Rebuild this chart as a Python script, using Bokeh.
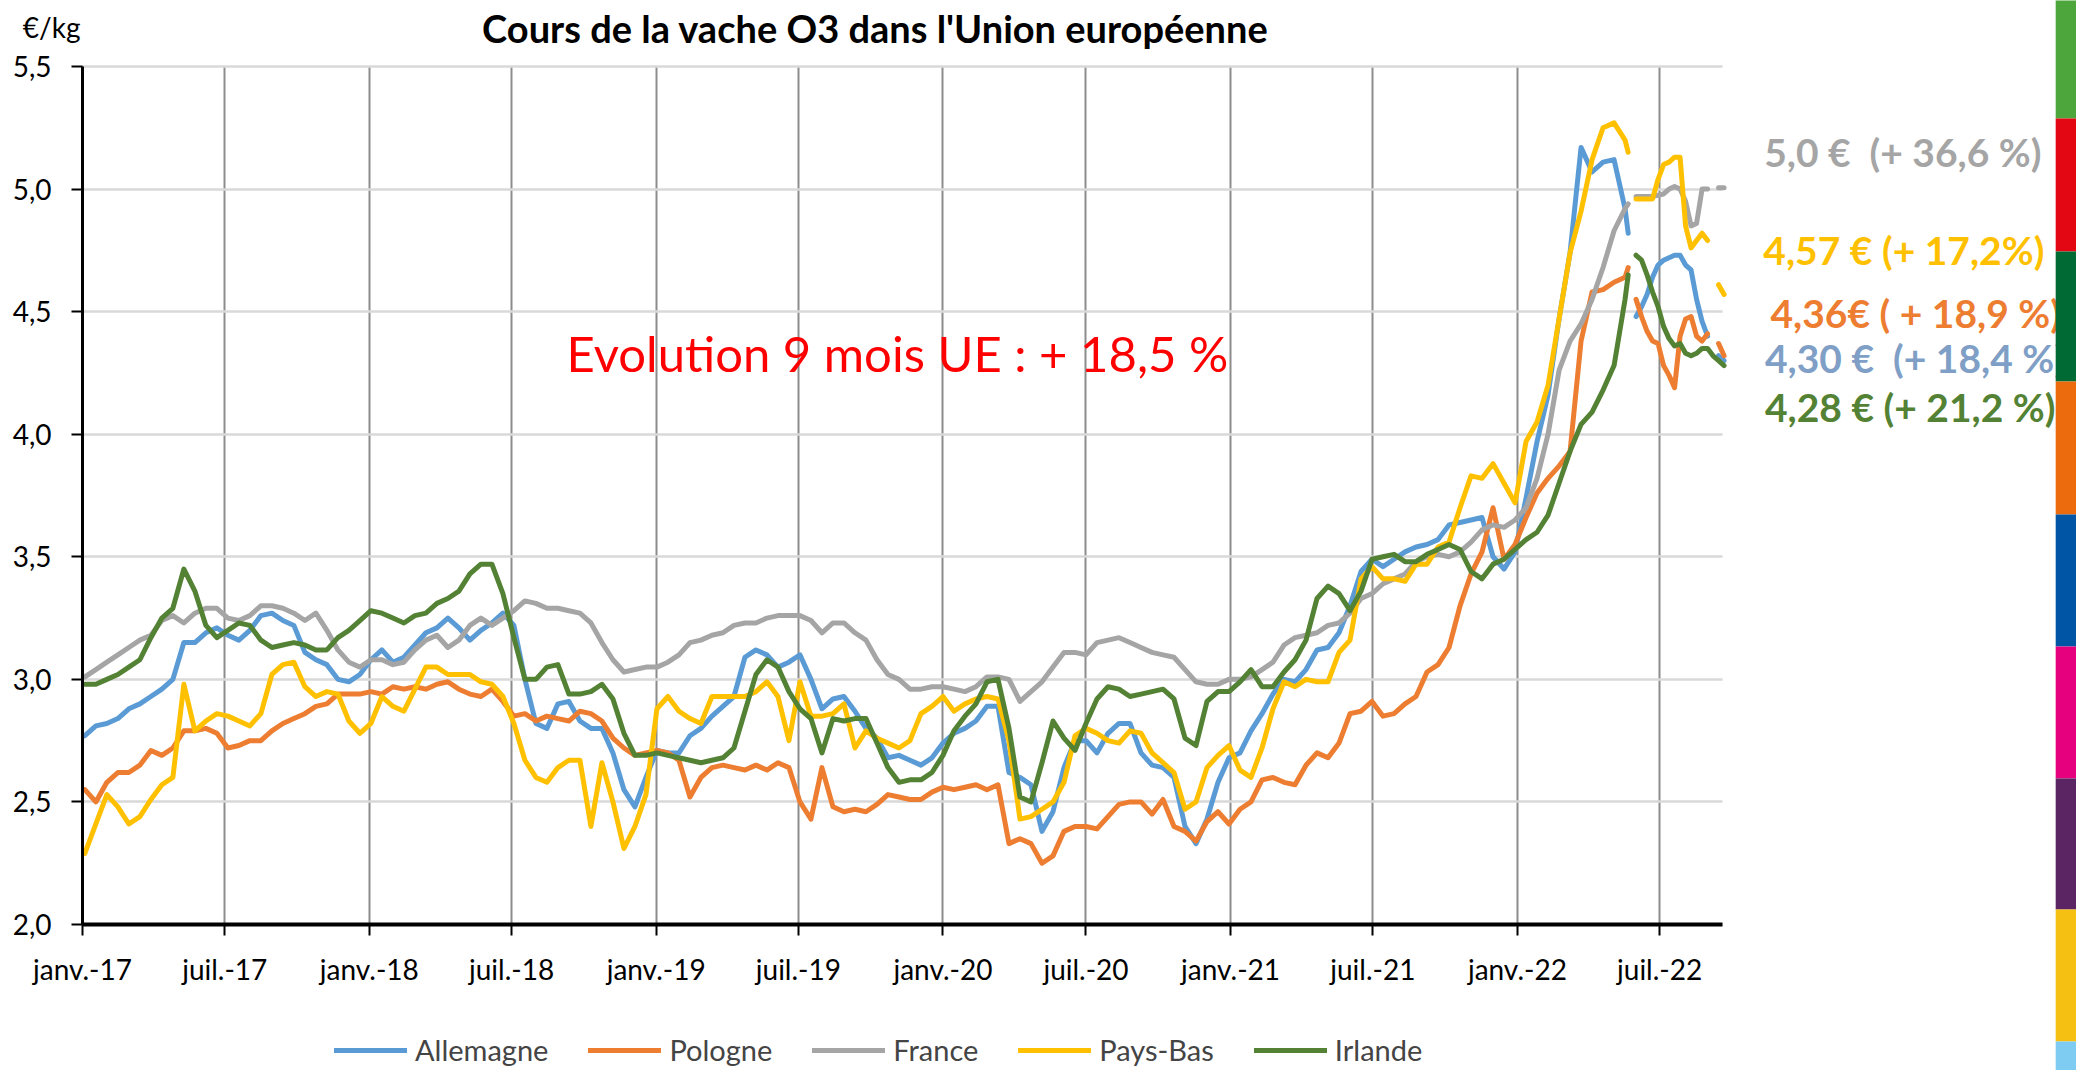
import numpy as np
from bokeh.plotting import figure
from bokeh.models import (Range1d, FixedTicker, CustomJSTickFormatter, Label, Legend,
                          LegendItem, BoxAnnotation, ColumnDataSource)
from bokeh.embed import file_html
from bokeh.resources import INLINE

nan = float("nan")

# x positions: days since 2017-01-01 (fortnightly, then weekly in 2022)
days = list(range(3, 1964, 14)) + [1967, 1972] + list(range(1977, 2090, 7))

allemagne = [
    2.77, 2.81, 2.82, 2.84, 2.88, 2.90, 2.93, 2.96, 3.00, 3.15,
    3.15, 3.19, 3.21, 3.18, 3.16, 3.20, 3.26, 3.27, 3.24, 3.22,
    3.11, 3.08, 3.06, 3.00, 2.99, 3.02, 3.08, 3.12, 3.07, 3.09,
    3.14, 3.19, 3.21, 3.25, 3.21, 3.16, 3.20, 3.23, 3.27, 3.22,
    3.00, 2.82, 2.80, 2.90, 2.91, 2.83, 2.80, 2.80, 2.70, 2.55,
    2.48, 2.60, 2.71, 2.70, 2.70, 2.77, 2.80, 2.85, 2.89, 2.93,
    3.09, 3.12, 3.10, 3.05, 3.07, 3.10, 3.00, 2.88, 2.92, 2.93,
    2.87, 2.80, 2.76, 2.68, 2.69, 2.67, 2.65, 2.68, 2.74, 2.78,
    2.80, 2.83, 2.89, 2.89, 2.62, 2.60, 2.57, 2.38, 2.46, 2.64,
    2.75, 2.75, 2.70, 2.78, 2.82, 2.82, 2.70, 2.65, 2.64, 2.60,
    2.40, 2.33, 2.43, 2.58, 2.68, 2.70, 2.79, 2.86, 2.94, 3.00,
    2.99, 3.04, 3.12, 3.13, 3.19, 3.30, 3.44, 3.49, 3.46, 3.49,
    3.52, 3.54, 3.55, 3.57, 3.63, 3.64, 3.65, 3.66, 3.50, 3.45,
    3.52, 3.74, 3.97, 4.16, 4.47, 4.74, 5.17, 5.07, 5.11, 5.12, 4.92,
    4.82, nan,
    4.48, 4.52, 4.57, 4.64, 4.69, 4.71, 4.72, 4.73, 4.73, 4.69, 4.67, 4.55, 4.46, 4.40, nan, 4.32, 4.30]

pologne = [
    2.55, 2.50, 2.58, 2.62, 2.62, 2.65, 2.71, 2.69, 2.72, 2.79,
    2.79, 2.80, 2.78, 2.72, 2.73, 2.75, 2.75, 2.79, 2.82, 2.84,
    2.86, 2.89, 2.90, 2.94, 2.94, 2.94, 2.95, 2.94, 2.97, 2.96,
    2.97, 2.96, 2.98, 2.99, 2.96, 2.94, 2.93, 2.96, 2.91, 2.85,
    2.86, 2.83, 2.85, 2.84, 2.83, 2.87, 2.86, 2.83, 2.76, 2.72,
    2.69, 2.70, 2.71, 2.70, 2.67, 2.52, 2.60, 2.64, 2.65, 2.64,
    2.63, 2.65, 2.63, 2.66, 2.64, 2.50, 2.43, 2.64, 2.48, 2.46,
    2.47, 2.46, 2.49, 2.53, 2.52, 2.51, 2.51, 2.54, 2.56, 2.55,
    2.56, 2.57, 2.55, 2.57, 2.33, 2.35, 2.33, 2.25, 2.28, 2.38,
    2.40, 2.40, 2.39, 2.44, 2.49, 2.50, 2.50, 2.45, 2.51, 2.40,
    2.38, 2.34, 2.42, 2.46, 2.41, 2.47, 2.50, 2.59, 2.60, 2.58,
    2.57, 2.65, 2.70, 2.68, 2.74, 2.86, 2.87, 2.91, 2.85, 2.86,
    2.90, 2.93, 3.03, 3.06, 3.13, 3.30, 3.43, 3.52, 3.70, 3.49,
    3.55, 3.66, 3.76, 3.82, 3.87, 3.93, 4.38, 4.58, 4.59, 4.62, 4.64,
    4.68, nan,
    4.55, 4.48, 4.42, 4.38, 4.37, 4.28, 4.24, 4.19, 4.40, 4.47, 4.48, 4.40, 4.38, 4.41, nan, 4.37, 4.32]

france = [
    3.01, 3.04, 3.07, 3.10, 3.13, 3.16, 3.18, 3.24, 3.26, 3.23,
    3.27, 3.29, 3.29, 3.25, 3.24, 3.26, 3.30, 3.30, 3.29, 3.27,
    3.24, 3.27, 3.20, 3.12, 3.07, 3.05, 3.08, 3.08, 3.06, 3.07,
    3.12, 3.16, 3.18, 3.13, 3.16, 3.22, 3.25, 3.22, 3.25, 3.28,
    3.32, 3.31, 3.29, 3.29, 3.28, 3.27, 3.23, 3.15, 3.08, 3.03,
    3.04, 3.05, 3.05, 3.07, 3.10, 3.15, 3.16, 3.18, 3.19, 3.22,
    3.23, 3.23, 3.25, 3.26, 3.26, 3.26, 3.24, 3.19, 3.23, 3.23,
    3.19, 3.16, 3.08, 3.02, 3.00, 2.96, 2.96, 2.97, 2.97, 2.96,
    2.95, 2.97, 3.01, 3.01, 3.00, 2.91, 2.95, 2.99, 3.05, 3.11,
    3.11, 3.10, 3.15, 3.16, 3.17, 3.15, 3.13, 3.11, 3.10, 3.09,
    3.04, 2.99, 2.98, 2.98, 3.00, 3.00, 3.01, 3.04, 3.07, 3.14,
    3.17, 3.18, 3.19, 3.22, 3.23, 3.27, 3.33, 3.35, 3.39, 3.41,
    3.43, 3.48, 3.50, 3.51, 3.50, 3.52, 3.56, 3.61, 3.63, 3.62,
    3.65, 3.70, 3.82, 4.00, 4.26, 4.38, 4.45, 4.55, 4.68, 4.83, 4.92,
    4.94, nan,
    4.97, 4.97, 4.97, 4.97, 4.975, 4.98, 5.00, 5.01, 5.00, 4.95, 4.85, 4.86, 5.00, 5.00, nan, 5.005, 5.005]

pays_bas = [
    2.29, 2.41, 2.53, 2.48, 2.41, 2.44, 2.51, 2.57, 2.60, 2.98,
    2.79, 2.83, 2.86, 2.85, 2.83, 2.81, 2.86, 3.02, 3.06, 3.07,
    2.97, 2.93, 2.95, 2.94, 2.83, 2.78, 2.82, 2.93, 2.89, 2.87,
    2.96, 3.05, 3.05, 3.02, 3.02, 3.02, 2.99, 2.98, 2.93, 2.82,
    2.67, 2.60, 2.58, 2.64, 2.67, 2.67, 2.40, 2.66, 2.50, 2.31,
    2.40, 2.53, 2.88, 2.93, 2.87, 2.84, 2.82, 2.93, 2.93, 2.93,
    2.93, 2.95, 2.99, 2.93, 2.75, 2.99, 2.85, 2.85, 2.86, 2.90,
    2.72, 2.79, 2.76, 2.74, 2.72, 2.75, 2.86, 2.89, 2.93, 2.87,
    2.90, 2.92, 2.93, 2.92, 2.75, 2.43, 2.44, 2.47, 2.50, 2.58,
    2.77, 2.80, 2.78, 2.75, 2.74, 2.79, 2.78, 2.70, 2.66, 2.62,
    2.47, 2.50, 2.64, 2.69, 2.73, 2.63, 2.60, 2.72, 2.88, 2.99,
    2.97, 3.00, 2.99, 2.99, 3.11, 3.16, 3.41, 3.46, 3.41, 3.41,
    3.40, 3.47, 3.47, 3.54, 3.56, 3.70, 3.83, 3.82, 3.88, 3.80,
    3.72, 3.97, 4.05, 4.20, 4.47, 4.74, 4.91, 5.12, 5.25, 5.27, 5.20,
    5.15, nan,
    4.96, 4.96, 4.96, 4.96, 5.04, 5.10, 5.11, 5.13, 5.13, 4.85, 4.76, 4.79, 4.82, 4.79, nan, 4.61, 4.57]

irlande = [
    2.98, 2.98, 3.00, 3.02, 3.05, 3.08, 3.17, 3.25, 3.29, 3.45,
    3.36, 3.22, 3.17, 3.20, 3.23, 3.22, 3.16, 3.13, 3.14, 3.15,
    3.14, 3.12, 3.12, 3.17, 3.20, 3.24, 3.28, 3.27, 3.25, 3.23,
    3.26, 3.27, 3.31, 3.33, 3.36, 3.43, 3.47, 3.47, 3.35, 3.17,
    3.00, 3.00, 3.05, 3.06, 2.94, 2.94, 2.95, 2.98, 2.92, 2.78,
    2.69, 2.69, 2.70, 2.69, 2.68, 2.67, 2.66, 2.67, 2.68, 2.72,
    2.87, 3.02, 3.08, 3.05, 2.95, 2.88, 2.84, 2.70, 2.84, 2.83,
    2.84, 2.84, 2.74, 2.64, 2.58, 2.59, 2.59, 2.62, 2.69, 2.79,
    2.85, 2.90, 2.99, 3.00, 2.80, 2.52, 2.50, 2.66, 2.83, 2.76,
    2.71, 2.82, 2.92, 2.97, 2.96, 2.93, 2.94, 2.95, 2.96, 2.92,
    2.76, 2.73, 2.91, 2.95, 2.95, 2.99, 3.04, 2.97, 2.97, 3.03,
    3.08, 3.16, 3.33, 3.38, 3.35, 3.28, 3.36, 3.49, 3.50, 3.51,
    3.48, 3.48, 3.51, 3.53, 3.55, 3.53, 3.44, 3.41, 3.47, 3.49,
    3.53, 3.57, 3.60, 3.67, 3.80, 3.93, 4.04, 4.09, 4.18, 4.28, 4.55,
    4.65, nan,
    4.73, 4.71, 4.65, 4.58, 4.52, 4.44, 4.39, 4.36, 4.37, 4.33, 4.32, 4.33, 4.35, 4.35, 4.32, 4.30, 4.28]

series_names = ["Allemagne", "Pologne", "France", "Pays-Bas", "Irlande"]
series_values = [allemagne, pologne, france, pays_bas, irlande]
series_colors = ["#5B9BD5", "#ED7D31", "#A5A5A5", "#FFC000", "#548235"]

tick_days = [0, 181, 365, 546, 730, 911, 1095, 1277, 1461, 1642, 1826, 2007]
tick_labels = ["janv.-17", "juil.-17", "janv.-18", "juil.-18", "janv.-19", "juil.-19",
               "janv.-20", "juil.-20", "janv.-21", "juil.-21", "janv.-22", "juil.-22"]
y_ticks = [2.0, 2.5, 3.0, 3.5, 4.0, 4.5, 5.0, 5.5]

end_labels = ["5,0 €\u00a0 (+ 36,6 %)", "4,57 € (+ 17,2%)", "4,36€ ( + 18,9 %)",
              "4,30 €\u00a0 (+ 18,4 %)", "4,28 € (+ 21,2 %)"]
end_label_colors = ["#A5A5A5", "#FFC000", "#ED7D31", "#7F9FC6", "#548235"]
end_label_y = [5.152, 4.751, 4.494, 4.31, 4.11]
end_label_x = [2140, 2139, 2148, 2141, 2141]

side_colors = ["#4CA63C", "#E30613", "#006A35", "#EC6B0C", "#0055A4",
               "#E6007E", "#5B2463", "#F6C013", "#7FCCF2"]
side_bounds = [5.78, 5.288, 4.745, 4.215, 3.672, 3.134, 2.596, 2.061, 1.523, 1.39]

FONT = "Lato"

# The canvas starts at the page's top-left corner. Frame fills the canvas; the
# plot area (0..2087 days, 2.0..5.5) sits at x 82..1722, y 66..924.
W, H = 2076, 1070
X0_DAY, X1_DAY = 0, 2087
px_per_day = 1640 / (X1_DAY - X0_DAY)
px_per_unit = 858 / 3.5
x_start = (0 - 82) / px_per_day
x_end = (W - 82) / px_per_day
y_end = 5.5 + 66 / px_per_unit
y_start = 2.0 - (H - 924) / px_per_unit

p = figure(width=W, height=H, output_backend="svg", toolbar_location=None,
           x_range=Range1d(x_start, x_end), y_range=Range1d(y_start, y_end),
           min_border=0)
p.outline_line_color = None
p.background_fill_color = "white"
p.border_fill_color = "white"

xa = p.xaxis[0]
xa.fixed_location = 2.0
xa.bounds = (X0_DAY, X1_DAY)
xa.ticker = FixedTicker(ticks=tick_days)
xa.major_label_overrides = {d: l for d, l in zip(tick_days, tick_labels)}
xa.axis_line_width = 4
xa.axis_line_color = "black"
xa.major_tick_out = 11
xa.major_tick_in = 0
xa.major_tick_line_width = 2
xa.major_tick_line_color = "black"
xa.minor_tick_line_color = None
xa.major_label_text_font = FONT
xa.major_label_text_font_size = "28px"
xa.major_label_text_color = "black"
xa.major_label_standoff = 16

ya = p.yaxis[0]
ya.fixed_location = 0
ya.bounds = (2.0, 5.5)
ya.ticker = FixedTicker(ticks=y_ticks)
ya.formatter = CustomJSTickFormatter(code="return tick.toFixed(1).replace('.', ',')")
ya.axis_line_width = 3
ya.axis_line_color = "black"
ya.major_tick_out = 11
ya.major_tick_in = 0
ya.major_tick_line_width = 2
ya.major_tick_line_color = "black"
ya.minor_tick_line_color = None
ya.major_label_text_font = FONT
ya.major_label_text_font_size = "28px"
ya.major_label_text_color = "black"
ya.major_label_standoff = 20

xg = p.xgrid[0]
yg = p.ygrid[0]
xg.grid_line_color = "#8C8C8C"
xg.grid_line_width = 2
yg.grid_line_color = "#D9D9D9"
yg.grid_line_width = 2.5
if "cross_bounds" in xg.properties():
    xg.cross_bounds = (2.0, 5.5)
    yg.cross_bounds = (X0_DAY, X1_DAY)

renderers = []
for name, vals, color in zip(series_names, series_values, series_colors):
    src = ColumnDataSource(dict(x=np.array(days, dtype=float), y=np.array(vals, dtype=float)))
    r = p.line("x", "y", source=src, line_color=color, line_width=5,
               line_join="round", line_cap="round")
    renderers.append(r)

legend = Legend(items=[LegendItem(label=n, renderers=[r]) for n, r in zip(series_names, renderers)],
                orientation="horizontal", location=(334, 3))
legend.label_text_font = FONT
legend.label_text_font_size = "29px"
legend.label_height = 24
legend.glyph_width = 73
legend.glyph_height = 24
legend.spacing = 40
legend.label_standoff = 8
legend.padding = 0
legend.margin = 0
legend.border_line_color = None
legend.background_fill_alpha = 0
p.add_layout(legend)

# Title & unit
p.add_layout(Label(x=1009, y=5.659, text="Cours de la vache O3 dans l'Union européenne",
                   text_align="center", text_baseline="middle", text_font=FONT,
                   text_font_style="bold", text_font_size="38px", text_color="black"))
p.add_layout(Label(x=-76, y=5.66, text="€/kg", text_align="left", text_baseline="middle",
                   text_font=FONT, text_font_size="28px", text_color="black"))

# Red annotation
p.add_layout(Label(x=616, y=4.33, text="Evolution 9 mois UE : + 18,5 %", text_align="left",
                   text_baseline="middle", text_font=FONT, text_font_size="49px",
                   text_color="#FF0000"))

# End labels
for t, c, yv, xv in zip(end_labels, end_label_colors, end_label_y, end_label_x):
    p.add_layout(Label(x=xv, y=yv, text=t, text_align="left", text_baseline="middle",
                       text_font=FONT, text_font_style="bold", text_font_size="39px",
                       text_color=c))

# Side colour band
for i, c in enumerate(side_colors):
    p.add_layout(BoxAnnotation(left=2511, right=2700, top=side_bounds[i], bottom=side_bounds[i + 1],
                               fill_color=c, fill_alpha=1.0, line_color=None))

open("out.html", "w").write(file_html(p, INLINE))
